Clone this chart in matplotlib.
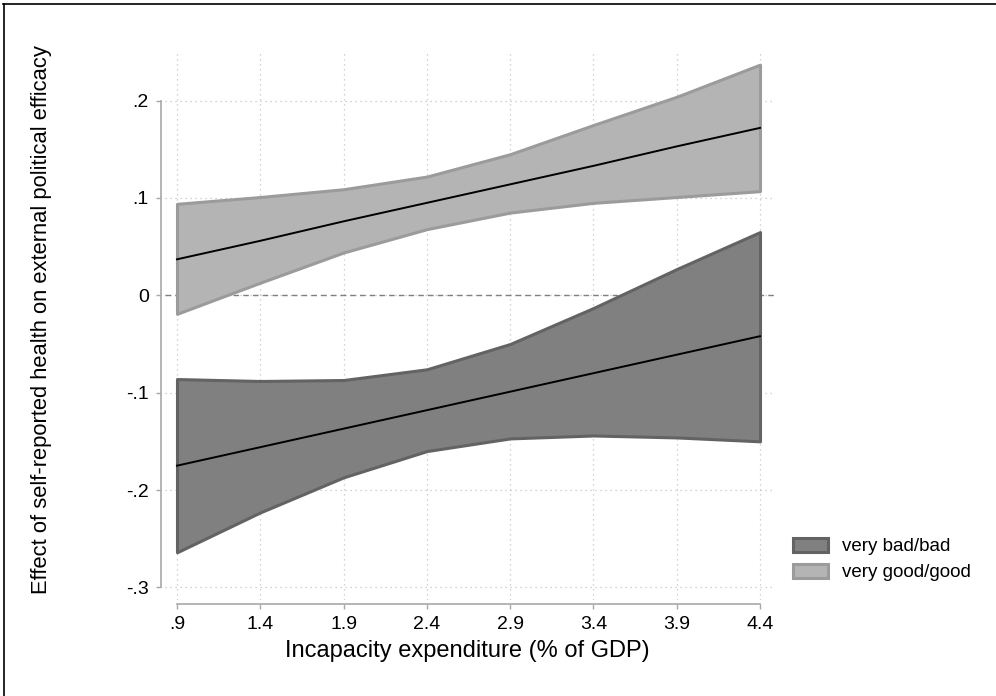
import numpy as np
import matplotlib.pyplot as plt
from matplotlib.lines import Line2D

plt.rcParams['font.family'] = ['Liberation Sans', 'DejaVu Sans']

# incapacity expenditure (% of GDP)
x = [0.9, 1.4, 1.9, 2.4, 2.9, 3.4, 3.9, 4.4]

# very bad/bad health
bad_mean = [-0.175, -0.156, -0.137, -0.118, -0.099, -0.080, -0.061, -0.042]
bad_lo = [-0.264, -0.223, -0.187, -0.160, -0.147, -0.144, -0.146, -0.150]
bad_hi = [-0.086, -0.088, -0.087, -0.076, -0.050, -0.013, 0.027, 0.065]

# very good/good health
good_mean = [0.037, 0.056, 0.076, 0.095, 0.114, 0.133, 0.153, 0.172]
good_lo = [-0.019, 0.013, 0.044, 0.068, 0.085, 0.095, 0.101, 0.107]
good_hi = [0.094, 0.101, 0.109, 0.122, 0.145, 0.175, 0.204, 0.237]

yticks = [0.2, 0.1, 0.0, -0.1, -0.2, -0.3]
ytick_labels = ['.2', '.1', '0', '-.1', '-.2', '-.3']
xtick_labels = ['.9', '1.4', '1.9', '2.4', '2.9', '3.4', '3.9', '4.4']

fig = plt.figure(figsize=(9.96, 6.96), dpi=100)
ax = fig.add_axes([165 / 996, 1 - 600 / 696, 610 / 996, 549 / 696])

# bands
ax.fill_between(x, bad_lo, bad_hi, facecolor='#808080', edgecolor='#636363',
                linewidth=2.2, label='very bad/bad', zorder=3)
ax.fill_between(x, good_lo, good_hi, facecolor='#b4b4b4', edgecolor='#9b9b9b',
                linewidth=2.2, label='very good/good', zorder=3)
ax.plot(x, bad_mean, color='black', linewidth=1.4, zorder=4)
ax.plot(x, good_mean, color='black', linewidth=1.4, zorder=4)

ax.axhline(0, color='#808080', linestyle='--', linewidth=1.0, dashes=(4, 3), zorder=2)

ax.set_xlim(0.828, 4.49)
ax.set_ylim(-0.313, 0.251)
ax.set_xticks(x)
ax.set_xticklabels(xtick_labels)
ax.set_yticks(yticks)
ax.set_yticklabels(ytick_labels)

ax.grid(True, linestyle=(0, (1, 3)), color='#c4c4c4', linewidth=0.9, zorder=1)
ax.set_axisbelow(True)

for s in ['top', 'right']:
    ax.spines[s].set_visible(False)
for s in ['left', 'bottom']:
    ax.spines[s].set_color('#a8a8a8')
    ax.spines[s].set_linewidth(1.2)
    ax.spines[s].set_position(('outward', 3))
ax.spines['left'].set_bounds(-0.3, 0.2)
ax.spines['bottom'].set_bounds(0.9, 4.4)

ax.tick_params(axis='both', which='major', direction='out', length=3.6, width=1.0,
               color='#a8a8a8', labelsize=14, labelcolor='black')
ax.tick_params(axis='x', pad=5)
ax.tick_params(axis='y', pad=5)

ax.set_xlabel('Incapacity expenditure (% of GDP)', fontsize=17)
ax.xaxis.set_label_coords(0.496, -0.073)
ax.set_ylabel('Effect of self-reported health on external political efficacy', fontsize=15.8)
ax.yaxis.set_label_coords(-0.185, 0.51)

leg = fig.legend(loc='upper left', bbox_to_anchor=(793 / 996, 1 - 538 / 696),
                 frameon=False, fontsize=13.5, handlelength=1.86, handleheight=0.75,
                 handletextpad=0.74, labelspacing=0.45, borderpad=0, borderaxespad=0)

# outer frame (top and left edges)
fig.add_artist(Line2D([3 / 996, 1], [1 - 4 / 696, 1 - 4 / 696], transform=fig.transFigure,
                      color='black', linewidth=1.2))
fig.add_artist(Line2D([4 / 996, 4 / 996], [0, 1 - 4 / 696], transform=fig.transFigure,
                      color='black', linewidth=1.2))

fig.savefig('out.png', dpi=100)
plt.close(fig)
